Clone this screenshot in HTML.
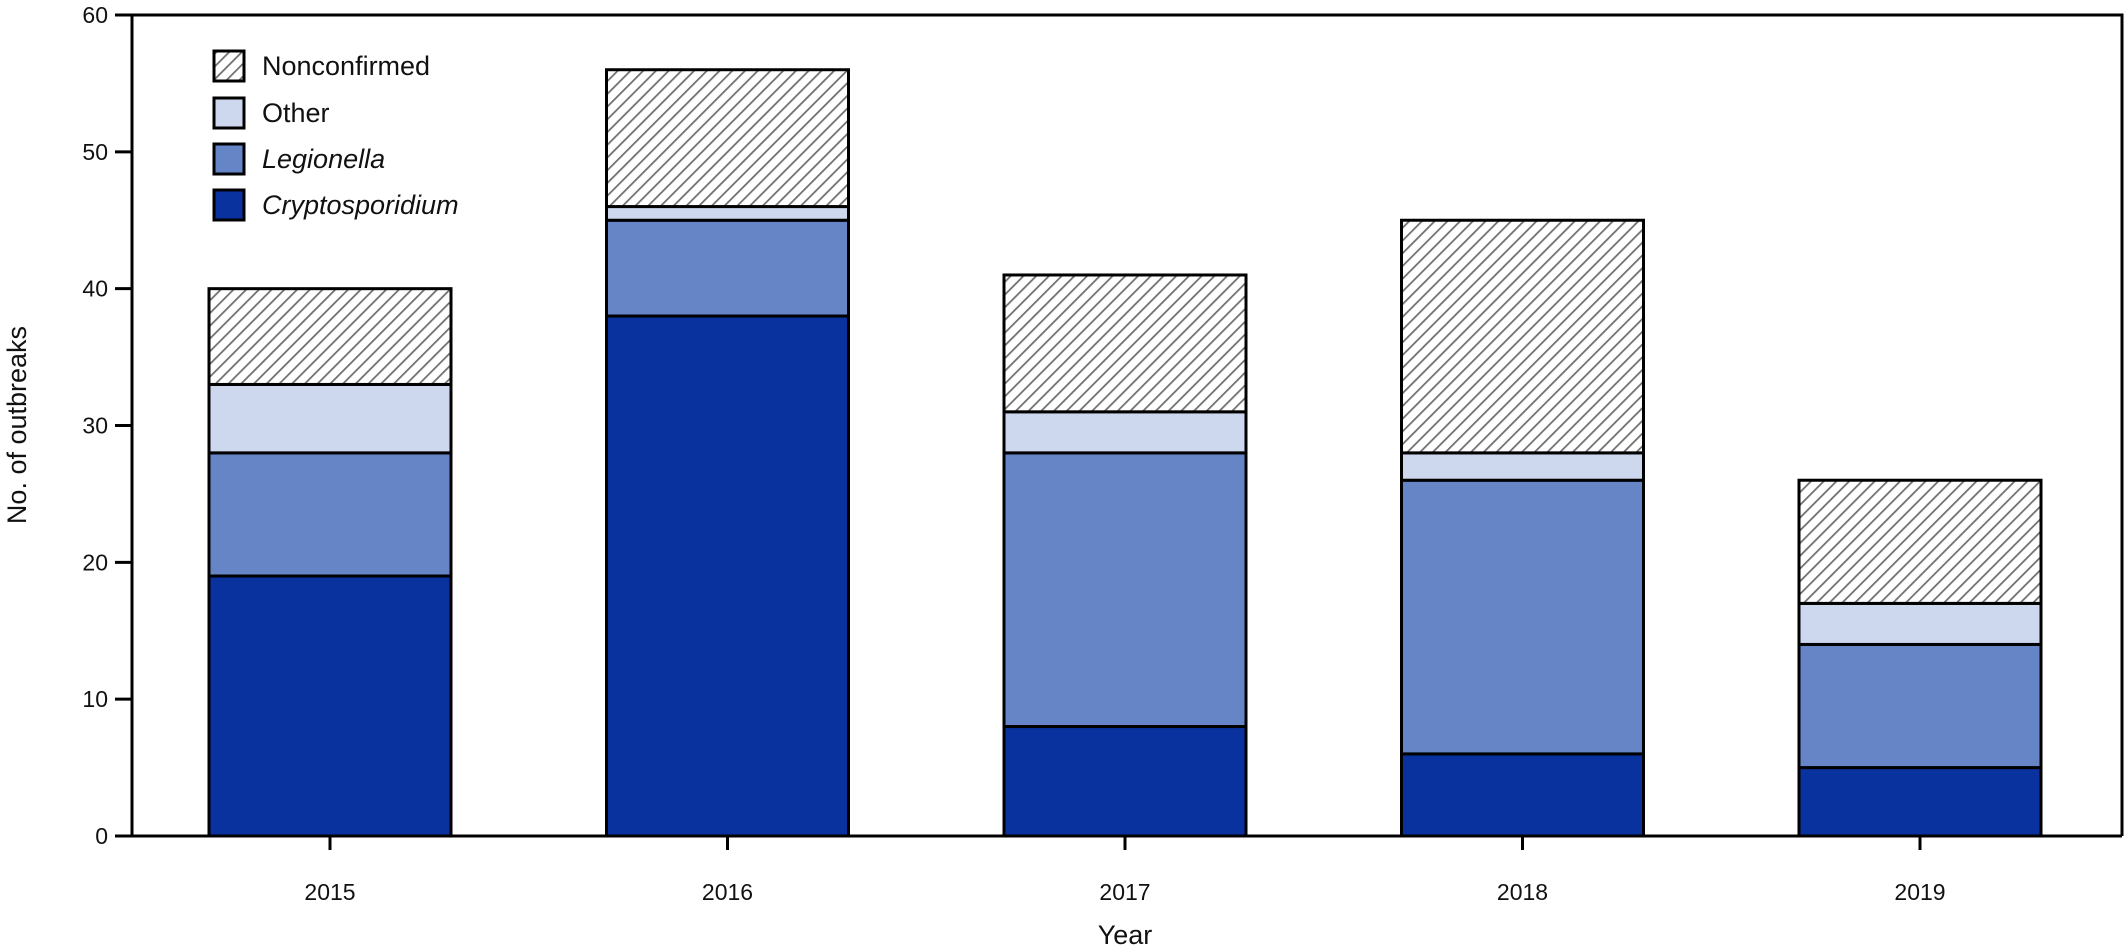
<!DOCTYPE html>
<html><head><meta charset="utf-8"><style>
html,body{margin:0;padding:0;background:#fff;}
svg{display:block;font-family:"Liberation Sans",sans-serif;}
</style></head><body>
<svg id="chart" width="2128" height="952" viewBox="0 0 2128 952" xmlns="http://www.w3.org/2000/svg">
<defs>
<pattern id="hatch" patternUnits="userSpaceOnUse" width="9" height="9" patternTransform="rotate(45)">
<rect width="9" height="9" fill="#fff"/>
<line x1="0" y1="0" x2="0" y2="9" stroke="#6e6e6e" stroke-width="3.5"/>
</pattern>
</defs>
<g id="plot"></g>
</svg>
<script>
const years = ["2015","2016","2017","2018","2019"];
const crypto = [19,38,8,6,5];
const legionella = [9,7,20,20,9];
const other = [5,1,3,2,3];
const nonconfirmed = [7,10,10,17,9];
const yTicks = [0,10,20,30,40,50,60];
const seriesNames = ["Cryptosporidium","Legionella","Other","Nonconfirmed"];

const NS="http://www.w3.org/2000/svg";
const svg=document.getElementById('plot');
const X0=132, X1=2122, Y0=836, Y1=15, YMAX=60;
const y=v=>Y0-(v/YMAX)*(Y0-Y1);
const step=397.5, first=330, bw=242;
const xc=i=>first+i*step;
function mk(t,a,p){const e=document.createElementNS(NS,t);for(const k in a)e.setAttribute(k,a[k]);(p||svg).appendChild(e);return e;}

const series=[crypto,legionella,other,nonconfirmed];
const fills=["#0a329f","#6585c7","#cdd8ee","url(#hatch)"];
const keys=["crypto","legionella","other","nonconfirmed"];
years.forEach((yr,i)=>{
  let base=0;
  series.forEach((s,k)=>{
    const v=s[i];
    const r=mk('rect',{x:xc(i)-bw/2,y:y(base+v),width:bw,height:y(base)-y(base+v),fill:fills[k],stroke:"#000","stroke-width":3});
    
    
    base+=v;
  });
  const t=mk('text',{x:xc(i),y:900,"text-anchor":"middle","font-size":23,fill:"#111"});
  t.textContent=yr;
  
  
  const tk=mk('line',{x1:xc(i),x2:xc(i),y1:Y0,y2:Y0+14,stroke:"#000","stroke-width":3});
  
  
});
yTicks.forEach(v=>{
  const l=mk('line',{x1:115,x2:X0,y1:y(v),y2:y(v),stroke:"#000","stroke-width":3});
  
  
  const t=mk('text',{x:108,y:y(v)+8,"text-anchor":"end","font-size":23,fill:"#111"});
  t.textContent=v;
  
  
});
const frame=mk('path',{d:`M${X0},${Y1} L${X1},${Y1} L${X1},${Y0} M${X0},${Y1} L${X0},${Y0} L${X1},${Y0}`,fill:"none",stroke:"#000","stroke-width":3});



const yt=mk('text',{x:0,y:0,transform:"translate(26,425) rotate(-90)","text-anchor":"middle","font-size":27,fill:"#111"});
yt.textContent="No. of outbreaks";


const xt=mk('text',{x:1125,y:944,"text-anchor":"middle","font-size":27,fill:"#111"});
xt.textContent="Year";



const legOrder=[3,2,1,0];
const legY=[66,113,159,205];
legOrder.forEach((k,j)=>{
  const g=mk('g',{});
  
  
  mk('rect',{x:214,y:legY[j]-15,width:30,height:30,fill:fills[k],stroke:"#000","stroke-width":3},g);
  const t=mk('text',{x:262,y:legY[j]+9,"font-size":27,fill:"#111","font-style":(k<2?"italic":"normal")},g);
  t.textContent=seriesNames[k];
});
</script>
</body></html>
